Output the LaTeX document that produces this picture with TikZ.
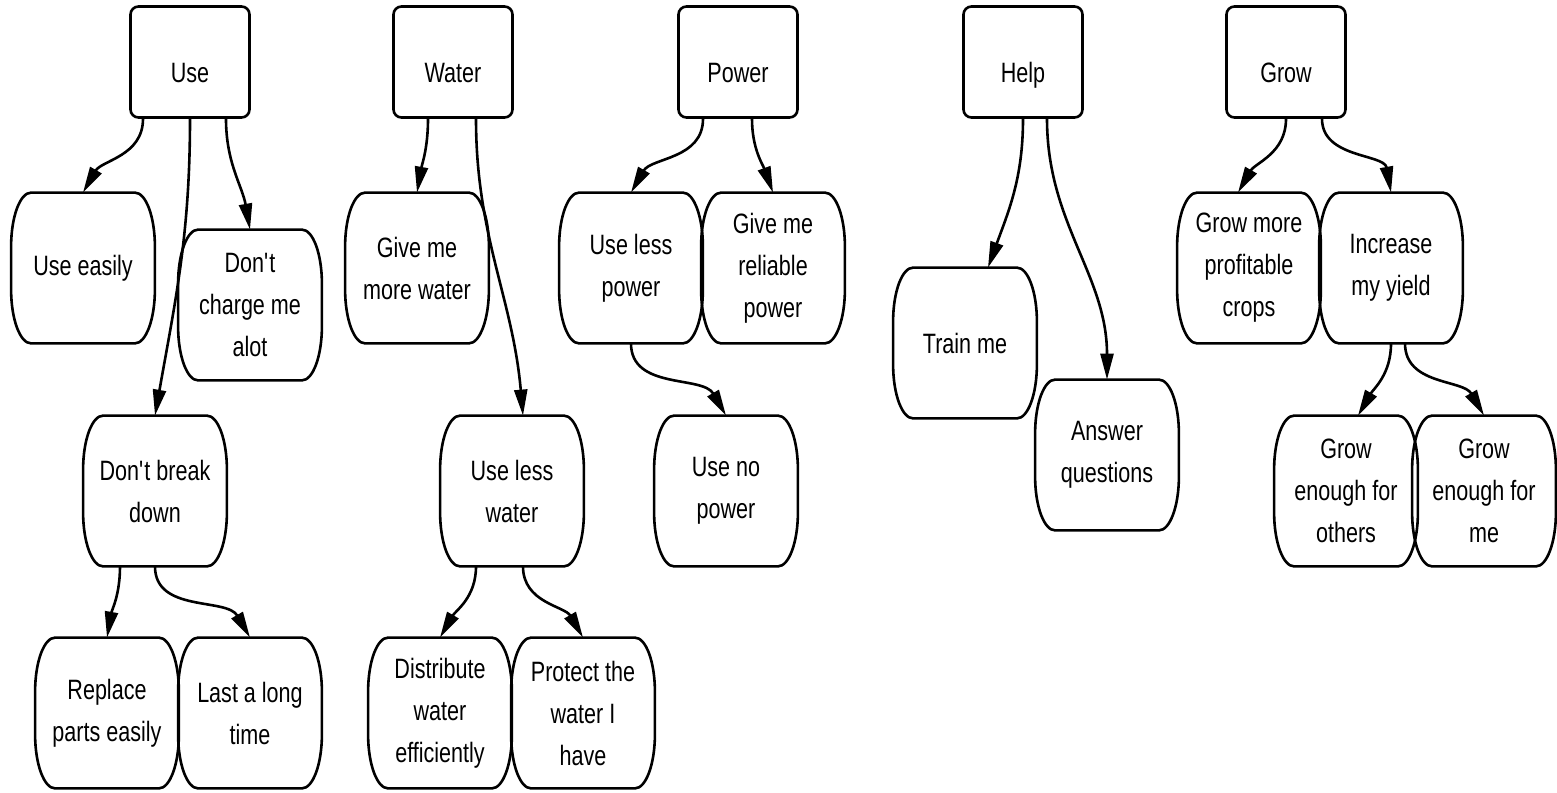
\documentclass[tikz,border=0pt]{standalone}
\usepackage{fontspec}
\setmainfont[FakeStretch=0.77]{Liberation Sans}
\usepackage{tikz}
\usetikzlibrary{arrows.meta}

\begin{document}
\begin{tikzpicture}[x=0.5pt, y=0.5pt,
    font=\fontsize{14}{21}\selectfont,
    topbox/.style={draw, line width=1.3pt, rounded corners=4pt, minimum width=59.5pt, minimum height=55.5pt, inner sep=0pt, text height=22pt, text depth=1pt},
    leaf/.style={align=center, minimum width=71.5pt, minimum height=75pt, inner sep=0pt},
    leafline/.style={line width=1.3pt},
    arr/.style={line width=1.3pt, -{Triangle[length=13pt, width=6.5pt]}}]
    \useasboundingbox (0,0) rectangle (1557,-792);

    % top row
    \node[topbox] (use)   at (190,-62)  {Use};
    \node[topbox] (water) at (453,-62)  {Water};
    \node[topbox] (power) at (738,-62)  {Power};
    \node[topbox] (help)  at (1023,-62) {Help};
    \node[topbox] (grow)  at (1286,-62) {Grow};

    % Use
    \node[leaf] (useeasy)  at (83,-268)  {Use easily};
    \node[leaf] (nocharge) at (250,-305) {Don\textquotesingle t\\charge me\\alot};
    \node[leaf] (nobreak)  at (155,-491) {Don\textquotesingle t break\\down};
    \node[leaf] (replace)  at (107,-713) {Replace\\parts easily};
    \node[leaf] (lastlong) at (250,-713) {Last a long\\time};

    % Water
    \node[leaf] (morewater)  at (417,-268) {Give me\\more water};
    \node[leaf] (lesswater)  at (512,-491) {Use less\\water};
    \node[leaf] (distribute) at (440,-713) {Distribute\\water\\efficiently};
    \node[leaf] (protect)    at (583,-713) {Protect the\\water I\\have};

    % Power
    \node[leaf] (lesspower) at (631,-268) {Use less\\power};
    \node[leaf] (reliable)  at (773,-268) {Give me\\reliable\\power};
    \node[leaf] (nopower)   at (726,-491) {Use no\\power};

    % Help
    \node[leaf] (train)  at (965,-343)  {Train me};
    \node[leaf] (answer) at (1107,-455) {Answer\\questions};

    % Grow
    \node[leaf] (profit) at (1249,-268) {Grow more\\profitable\\crops};
    \node[leaf] (yield)  at (1391,-268) {Increase\\my yield};
    \node[leaf] (others) at (1346,-491) {Grow\\enough for\\others};
    \node[leaf] (me)     at (1484,-491) {Grow\\enough for\\me};

    % leaf outlines
    \foreach \n in {useeasy,nocharge,nobreak,replace,lastlong,morewater,lesswater,distribute,protect,lesspower,reliable,nopower,train,answer,profit,yield,others,me}
      \draw[leafline] ([xshift=10pt]\n.north west) -- ([xshift=-10pt]\n.north east)
        arc[start angle=90, end angle=0, x radius=10pt, y radius=27pt]
        -- ([yshift=27pt]\n.south east)
        arc[start angle=0, end angle=-90, x radius=10pt, y radius=27pt]
        -- ([xshift=10pt]\n.south west)
        arc[start angle=270, end angle=180, x radius=10pt, y radius=27pt]
        -- ([yshift=-27pt]\n.north west)
        arc[start angle=180, end angle=90, x radius=10pt, y radius=27pt] -- cycle;

    % arrows
    \draw[arr] ([xshift=-23.5pt]use.south) to[out=-90, in=60] (useeasy.north);
    \draw[arr] (use.south) to[out=-90, in=80] (nobreak.north);
    \draw[arr] ([xshift=18pt]use.south) to[out=-90, in=100] (nocharge.north);
    \draw[arr] ([xshift=-17.5pt]nobreak.south) to[out=-90, in=80] (replace.north);
    \draw[arr] (nobreak.south) to[out=-90, in=120] (lastlong.north);

    \draw[arr] ([xshift=-12.5pt]water.south) to[out=-90, in=80] (morewater.north);
    \draw[arr] ([xshift=11.5pt]water.south) to[out=-90, in=95] ([xshift=5.5pt]lesswater.north);
    \draw[arr] ([xshift=-18pt]lesswater.south) to[out=-90, in=60] (distribute.north);
    \draw[arr] ([xshift=5.5pt]lesswater.south) to[out=-90, in=120] (protect.north);

    \draw[arr] ([xshift=-17.5pt]power.south) to[out=-90, in=60] (lesspower.north);
    \draw[arr] ([xshift=7pt]power.south) to[out=-90, in=110] (reliable.north);
    \draw[arr] (lesspower.south) to[out=-90, in=120] (nopower.north);

    \draw[arr] (help.south) to[out=-90, in=70] ([xshift=11.5pt]train.north);
    \draw[arr] ([xshift=12pt]help.south) to[out=-90, in=90] (answer.north);

    \draw[arr] (grow.south) to[out=-90, in=60] ([xshift=-5.5pt]profit.north);
    \draw[arr] ([xshift=18pt]grow.south) to[out=-90, in=100] (yield.north);
    \draw[arr] (yield.south) to[out=-90, in=60] ([xshift=6pt]others.north);
    \draw[arr] ([xshift=7pt]yield.south) to[out=-90, in=120] (me.north);
\end{tikzpicture}
\end{document}
